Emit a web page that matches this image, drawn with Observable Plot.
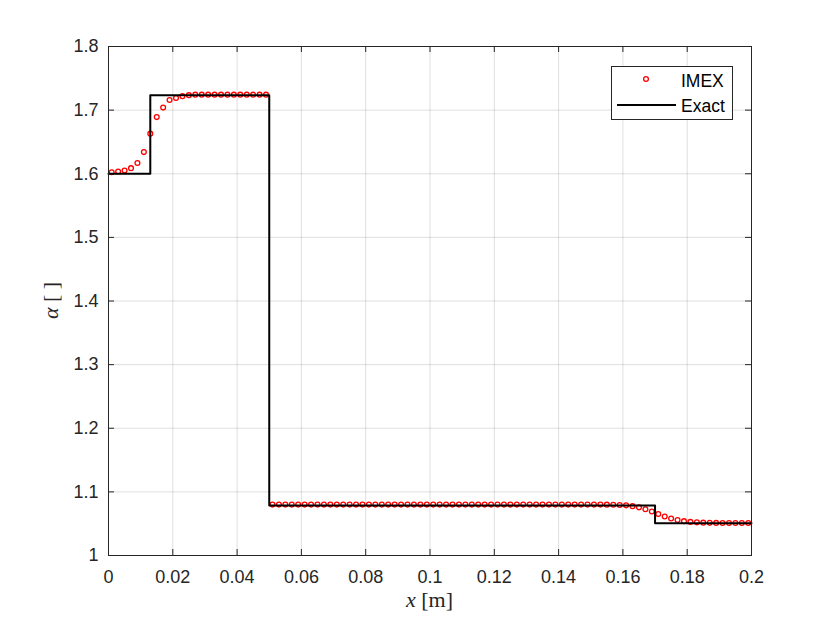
<!DOCTYPE html>
<html>
<head>
<meta charset="utf-8">
<script src="https://cdn.jsdelivr.net/npm/d3@7"></script>
<script src="https://cdn.jsdelivr.net/npm/@observablehq/plot@0.6"></script>
<style>
  html, body { margin: 0; padding: 0; background: #fff; }
  #chart { width: 830px; height: 623px; }
</style>
</head>
<body>
<div id="chart"></div>
<script>
// ---- Data ----
const imexX = [
  0.001, 0.003, 0.005, 0.007, 0.009, 0.011, 0.013, 0.015, 0.017, 0.019,
  0.021, 0.023, 0.025, 0.027, 0.029, 0.031, 0.033, 0.035, 0.037, 0.039,
  0.041, 0.043, 0.045, 0.047, 0.049, 0.051, 0.053, 0.055, 0.057, 0.059,
  0.061, 0.063, 0.065, 0.067, 0.069, 0.071, 0.073, 0.075, 0.077, 0.079,
  0.081, 0.083, 0.085, 0.087, 0.089, 0.091, 0.093, 0.095, 0.097, 0.099,
  0.101, 0.103, 0.105, 0.107, 0.109, 0.111, 0.113, 0.115, 0.117, 0.119,
  0.121, 0.123, 0.125, 0.127, 0.129, 0.131, 0.133, 0.135, 0.137, 0.139,
  0.141, 0.143, 0.145, 0.147, 0.149, 0.151, 0.153, 0.155, 0.157, 0.159,
  0.161, 0.163, 0.165, 0.167, 0.169, 0.171, 0.173, 0.175, 0.177, 0.179,
  0.181, 0.183, 0.185, 0.187, 0.189, 0.191, 0.193, 0.195, 0.197, 0.199
];
const imexAlpha = [
  1.6024, 1.6035, 1.6050, 1.6088, 1.6170, 1.6340, 1.6630, 1.6890, 1.7040, 1.7160,
  1.7190, 1.7220, 1.7235, 1.7243, 1.7243, 1.7243, 1.7243, 1.7243, 1.7243, 1.7243,
  1.7243, 1.7243, 1.7243, 1.7243, 1.7243, 1.0800, 1.0800, 1.0800, 1.0800, 1.0800,
  1.0800, 1.0800, 1.0800, 1.0800, 1.0800, 1.0800, 1.0800, 1.0800, 1.0800, 1.0800,
  1.0800, 1.0800, 1.0800, 1.0800, 1.0800, 1.0800, 1.0800, 1.0800, 1.0800, 1.0800,
  1.0800, 1.0800, 1.0800, 1.0800, 1.0800, 1.0800, 1.0800, 1.0800, 1.0800, 1.0800,
  1.0800, 1.0800, 1.0800, 1.0800, 1.0800, 1.0800, 1.0800, 1.0800, 1.0800, 1.0800,
  1.0800, 1.0800, 1.0800, 1.0800, 1.0800, 1.0800, 1.0800, 1.0799, 1.0797, 1.0794,
  1.0788, 1.0776, 1.0757, 1.0728, 1.0692, 1.0652, 1.0614, 1.0582, 1.0557, 1.0540,
  1.0528, 1.0521, 1.0516, 1.0513, 1.0512, 1.0511, 1.0511, 1.0511, 1.0511, 1.0511
];
const exactX = [0, 0.013, 0.013, 0.05, 0.05, 0.17, 0.17, 0.2];
const exactAlpha = [1.6, 1.6, 1.7232, 1.7232, 1.0785, 1.0785, 1.0508, 1.0508];

const xTicks = [0, 0.02, 0.04, 0.06, 0.08, 0.1, 0.12, 0.14, 0.16, 0.18, 0.2];
const xTickLabels = ["0", "0.02", "0.04", "0.06", "0.08", "0.1", "0.12", "0.14", "0.16", "0.18", "0.2"];
const yTicks = [1, 1.1, 1.2, 1.3, 1.4, 1.5, 1.6, 1.7, 1.8];
const yTickLabels = ["1", "1.1", "1.2", "1.3", "1.4", "1.5", "1.6", "1.7", "1.8"];
const seriesNames = ["IMEX", "Exact"];

// ---- Build tables ----
const imex = imexX.map((x, i) => ({x, a: imexAlpha[i]}));
const exact = exactX.map((x, i) => ({x, a: exactAlpha[i]}));
const xLab = new Map(xTicks.map((t, i) => [t, xTickLabels[i]]));
const yLab = new Map(yTicks.map((t, i) => [t, yTickLabels[i]]));

const axisColor = "#262626";
const W = 830, H = 623, mL = 108, mR = 79, mT = 46, mB = 68;
const innerW = W - mL - mR, innerH = H - mT - mB;
const tickLen = 6;

const plot = Plot.plot({
  width: W, height: H,
  marginLeft: mL, marginRight: mR, marginTop: mT, marginBottom: mB,
  x: {domain: [0, 0.2]},
  y: {domain: [1, 1.8]},
  style: {fontFamily: "'Liberation Sans', Arial, sans-serif", fontSize: "18px", color: axisColor, background: "white"},
  marks: [
    Plot.gridX(xTicks, {stroke: axisColor, strokeOpacity: 0.15, strokeWidth: 1}),
    Plot.gridY(yTicks, {stroke: axisColor, strokeOpacity: 0.15, strokeWidth: 1}),
    Plot.axisX(xTicks, {tickSize: 0, tickPadding: 15, tickFormat: d => xLab.get(d), label: null, fill: axisColor}),
    Plot.axisY(yTicks, {tickSize: 0, tickPadding: 10, tickFormat: d => yLab.get(d), label: null, fill: axisColor}),
    Plot.tickX(xTicks, {x: d => d, insetTop: innerH - tickLen, stroke: axisColor}),
    Plot.tickX(xTicks, {x: d => d, insetBottom: innerH - tickLen, stroke: axisColor}),
    Plot.tickY(yTicks, {y: d => d, insetRight: innerW - tickLen, stroke: axisColor}),
    Plot.tickY(yTicks, {y: d => d, insetLeft: innerW - tickLen, stroke: axisColor}),
    Plot.dot(imex, {x: "x", y: "a", r: 2.4, stroke: "#ff0000", strokeWidth: 1.3, fill: "none"}),
    Plot.line(exact, {x: "x", y: "a", stroke: "#000000", strokeWidth: 2, curve: "linear"}),
    Plot.frame({stroke: axisColor, strokeWidth: 1})
  ]
});

document.getElementById("chart").appendChild(plot);

// ---- Axis labels (mixed italic / upright, LaTeX-like) ----
const svg = d3.select(plot);
const xs = plot.scale("x"), ys = plot.scale("y");
const cx = (xs.apply(0) + xs.apply(0.2)) / 2;
const cy = (ys.apply(1) + ys.apply(1.8)) / 2;
const serif = "'Liberation Serif', 'Times New Roman', serif";

const xl = svg.append("text")
  .attr("x", cx).attr("y", 607)
  .attr("text-anchor", "middle")
  .attr("font-family", serif).attr("font-size", 22).attr("fill", axisColor);
xl.append("tspan").attr("font-style", "italic").text("x");
xl.append("tspan").text(" [m]");

const yl = svg.append("text")
  .attr("transform", `translate(58,${cy}) rotate(-90)`)
  .attr("text-anchor", "middle")
  .attr("font-family", serif).attr("font-size", 22).attr("fill", axisColor);
yl.append("tspan").attr("font-style", "italic").text("α");
yl.append("tspan").text(" [ ]");

// ---- Legend ----
const sans = "'Liberation Sans', Arial, sans-serif";
const lg = svg.append("g").attr("text-anchor", "start");
lg.append("rect").attr("x", 611.5).attr("y", 66.5).attr("width", 121).attr("height", 53)
  .attr("fill", "white").attr("stroke", axisColor).attr("stroke-width", 1);
lg.append("circle").attr("cx", 646).attr("cy", 79).attr("r", 2.4)
  .attr("fill", "none").attr("stroke", "#ff0000").attr("stroke-width", 1.3);
lg.append("line").attr("x1", 617).attr("x2", 676).attr("y1", 105).attr("y2", 105)
  .attr("stroke", "#000").attr("stroke-width", 2);
lg.append("text").attr("x", 681).attr("y", 87).attr("text-anchor", "start").text(seriesNames[0])
  .attr("font-family", sans).attr("font-size", 17.5).attr("fill", "#000");
lg.append("text").attr("x", 681).attr("y", 111.5).attr("text-anchor", "start").text(seriesNames[1])
  .attr("font-family", sans).attr("font-size", 17.5).attr("fill", "#000");
</script>
</body>
</html>
